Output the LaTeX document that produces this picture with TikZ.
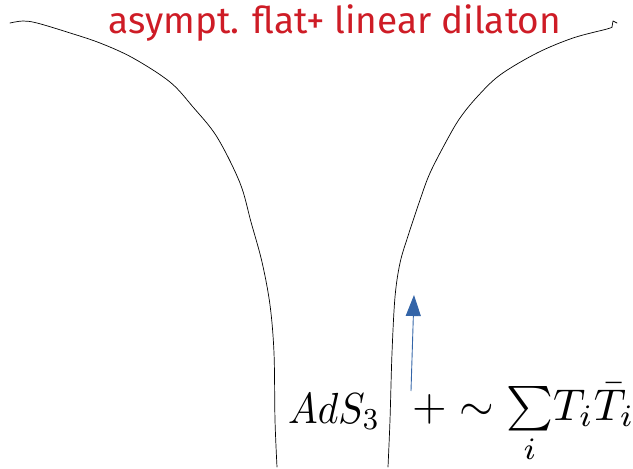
\documentclass[tikz,border=0pt]{standalone}
\usepackage{fontspec}
\usepackage{graphicx}
\newfontfamily\titlefont{Fira Sans}
\usetikzlibrary{arrows.meta}
\definecolor{titlered}{RGB}{206,28,38}
\definecolor{arrowblue}{RGB}{52,101,168}
\begin{document}
\begin{tikzpicture}[x=1pt,y=-1pt,
  wall/.style={black,line width=0.7pt,line cap=round,line join=round},
  flow/.style={arrowblue,line width=0.9pt,-{Triangle[length=21pt,width=15pt]}}]
\useasboundingbox (0,0) rectangle (633,469);
% left wall
\draw[wall] plot[smooth,tension=0.55] coordinates {
  (10,23) (23,21) (37,23) (67,32) (100,43) (133,58) (170,82) (193,107)
  (217,137) (240,183) (251,222) (262,262) (270,305) (274,353) (275,420) (277,467)};
% right wall
\draw[wall] plot[smooth,tension=0.55] coordinates {
  (388,467) (390,420) (392,353) (395,297) (400,263) (408,236) (420,200)
  (430,173) (447,140) (460,118) (477,97) (500,75) (537,53) (573,38) (607,29) (612,27)};
\draw[wall] (612,27) -- (613,21) -- (617,23);
% labels
\node[anchor=base,text=titlered,font=\titlefont\fontsize{37}{44}\selectfont,inner sep=0pt]
  (title) at (335,33) {asympt. flat+ linear dilaton};
\node[anchor=base west,inner sep=0pt]
  (ads) at (288,423) {\scalebox{3.95}[4.35]{$AdS_3$}};
\node[anchor=base west,inner sep=0pt]
  (pert) at (412,420) {\scalebox{4.45}{$+\sim\sum\limits_i\! T_i\bar T_i$}};
\coordinate (arrstart) at (411,391);
\coordinate (arrtip) at (414,295);
\draw[flow] (arrstart) -- (arrtip);
\end{tikzpicture}
\end{document}
